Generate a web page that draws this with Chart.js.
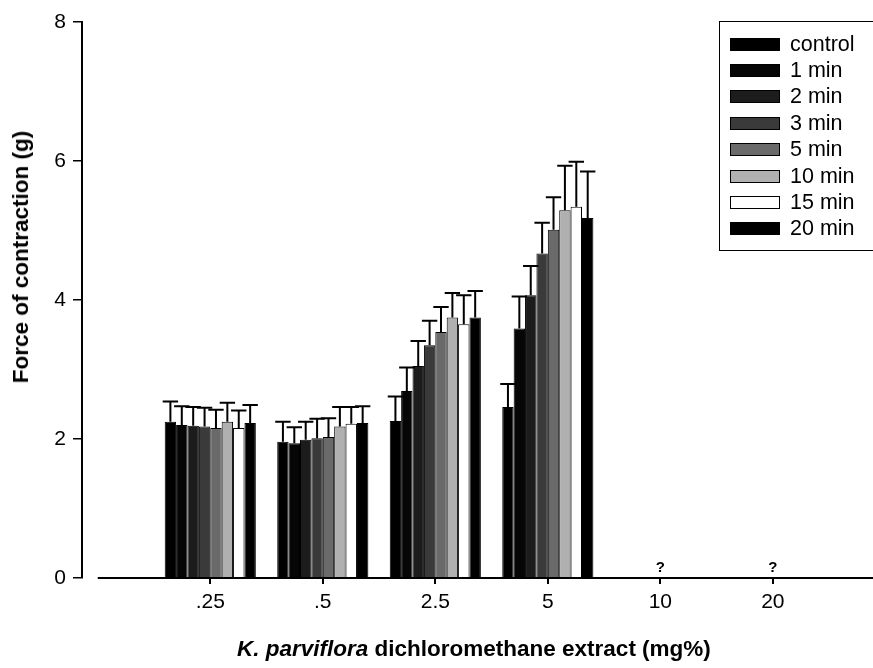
<!DOCTYPE html>
<html>
<head>
<meta charset="utf-8">
<script src="https://cdn.jsdelivr.net/npm/chart.js@4/dist/chart.umd.min.js"></script>
<style>
  body { margin: 0; background: #fff; overflow: hidden; }
  #wrap { position: relative; width: 873px; height: 668px; font-family: 'Liberation Sans', Arial, sans-serif; }
  #legend { position: absolute; left: 719px; top: 21px; width: 170px; height: 230px; border: 1.5px solid #000; box-sizing: border-box; padding-top: 9px; }
  #legend .row { height: 26.4px; display: flex; align-items: center; font-size: 21.5px; color: #000; }
  #legend .sw { width: 50px; height: 13px; margin-left: 10px; margin-right: 10px; border: 1px solid #000; box-sizing: border-box; }
  #ytitle { position: absolute; left: 21px; top: 257px; transform: translate(-50%, -50%) rotate(-90deg); white-space: nowrap; font-weight: bold; font-size: 22.5px; }
  #xtitle { position: absolute; left: 237px; top: 636px; white-space: nowrap; font-weight: bold; font-size: 22.5px; }
</style>
</head>
<body>
<div id="wrap">
  <canvas id="plots" width="873" height="668"></canvas>
  <div id="legend"></div>
  <div id="ytitle">Force of contraction (g)</div>
  <div id="xtitle"><i>K. parviflora</i> dichloromethane extract (mg%)</div>
</div>
<script>
// doses (mg%) on the x axis
var doses = ['.25', '.5', '2.5', '5', '10', '20'];
var notes = ['', '', '', '', '?', '?']; // no data at the two top doses

var times = ['control', '1 min', '2 min', '3 min', '5 min', '10 min', '15 min', '20 min'];
var fills = ['#000000', '#060606', '#1c1c1c', '#3a3a3a', '#6a6a6a', '#b0b0b0', '#ffffff', '#000000'];

// mean force (g) per time point, one value per dose
var control = [2.25, 1.96, 2.26, 2.46, null, null];
var min1 = [2.20, 1.94, 2.69, 3.59, null, null];
var min2 = [2.19, 1.99, 3.05, 4.07, null, null];
var min3 = [2.18, 2.01, 3.35, 4.67, null, null];
var min5 = [2.16, 2.03, 3.54, 5.01, null, null];
var min10 = [2.25, 2.18, 3.75, 5.29, null, null];
var min15 = [2.16, 2.22, 3.65, 5.34, null, null];
var min20 = [2.23, 2.23, 3.75, 5.18, null, null];

// S.E.M. (upper bar only)
var errControl = [0.29, 0.29, 0.35, 0.33, null, null];
var errMin1 = [0.27, 0.23, 0.34, 0.46, null, null];
var errMin2 = [0.27, 0.26, 0.36, 0.42, null, null];
var errMin3 = [0.27, 0.28, 0.35, 0.44, null, null];
var errMin5 = [0.26, 0.27, 0.36, 0.47, null, null];
var errMin10 = [0.27, 0.28, 0.35, 0.64, null, null];
var errMin15 = [0.25, 0.24, 0.42, 0.65, null, null];
var errMin20 = [0.26, 0.24, 0.38, 0.67, null, null];

var yTicks = [0, 2, 4, 6, 8];

var means = [control, min1, min2, min3, min5, min10, min15, min20];
var errs = [errControl, errMin1, errMin2, errMin3, errMin5, errMin10, errMin15, errMin20];

var FONT = "'Liberation Sans', Arial, sans-serif";

// bars sit on a linear axis at positions 1..6 so the axis can start left of the first dose
var datasets = means.map(function (vals, k) {
  return {
    label: times[k],
    data: vals.map(function (v, i) { return { x: i + 1, y: v }; }),
    errors: errs[k],
    backgroundColor: fills[k],
    borderColor: '#000',
    borderWidth: 1,
    categoryPercentage: 0.81,
    barPercentage: 1.0
  };
});

// legend box
var leg = document.getElementById('legend');
times.forEach(function (t, k) {
  var row = document.createElement('div');
  row.className = 'row';
  row.innerHTML = '<span class="sw" style="background:' + fills[k] + '"></span>' + t;
  leg.appendChild(row);
});

// error bars, axis baseline and "?" notes
var extras = {
  id: 'extras',
  afterDatasetsDraw: function (chart) {
    var ctx = chart.ctx, xs = chart.scales.x, ys = chart.scales.y;
    ctx.save();
    ctx.strokeStyle = '#000';
    chart.data.datasets.forEach(function (ds, k) {
      var meta = chart.getDatasetMeta(k);
      meta.data.forEach(function (bar, i) {
        var v = ds.data[i].y, e = ds.errors[i];
        if (v == null || e == null) return;
        var top = ys.getPixelForValue(v + e);
        var half = bar.width / 2 + 2;
        ctx.lineWidth = 2;
        ctx.beginPath();
        ctx.moveTo(bar.x, bar.y);
        ctx.lineTo(bar.x, top);
        ctx.moveTo(bar.x - half, top);
        ctx.lineTo(bar.x + half, top);
        ctx.stroke();
      });
    });
    // baseline starts at position 0, leaving a gap after the y axis
    var y0 = ys.getPixelForValue(0);
    ctx.lineWidth = 2;
    ctx.beginPath();
    ctx.moveTo(xs.getPixelForValue(0), y0);
    ctx.lineTo(chart.chartArea.right, y0);
    ctx.stroke();
    ctx.fillStyle = '#000';
    ctx.font = 'bold 15px ' + FONT;
    ctx.textAlign = 'center';
    ctx.textBaseline = 'bottom';
    notes.forEach(function (n, i) {
      if (n) ctx.fillText(n, xs.getPixelForValue(i + 1), y0 - 3);
    });
    ctx.restore();
  }
};

new Chart(document.getElementById('plots'), {
  type: 'bar',
  data: { datasets: datasets },
  options: {
    responsive: false,
    animation: false,
    layout: { padding: { top: 22, right: 0, left: 0, bottom: 0 } },
    plugins: { legend: { display: false }, tooltip: { enabled: false } },
    scales: {
      x: {
        type: 'linear',
        offset: false,
        min: -0.14,
        max: 6.89,
        afterBuildTicks: function (s) {
          s.ticks = [1, 2, 3, 4, 5, 6].map(function (v) { return { value: v }; });
        },
        afterFit: function (s) { s.height = 90; },
        border: { display: false },
        grid: { offset: false, drawOnChartArea: false, drawTicks: true, tickLength: 6, color: '#000', lineWidth: 2 },
        ticks: {
          autoSkip: false,
          maxRotation: 0,
          padding: 6,
          color: '#000',
          font: { family: FONT, size: 21 },
          callback: function (v) { return doses[v - 1]; }
        }
      },
      y: {
        min: 0,
        max: 8,
        afterFit: function (s) { s.width = 82; },
        afterBuildTicks: function (s) {
          s.ticks = yTicks.map(function (v) { return { value: v }; });
        },
        border: { display: true, color: '#000', width: 2 },
        grid: { drawOnChartArea: false, drawTicks: true, tickLength: 9, color: '#000', lineWidth: 1.5 },
        ticks: {
          padding: 7,
          color: '#000',
          font: { family: FONT, size: 21 }
        }
      }
    }
  },
  plugins: [extras]
});
</script>
</body>
</html>
